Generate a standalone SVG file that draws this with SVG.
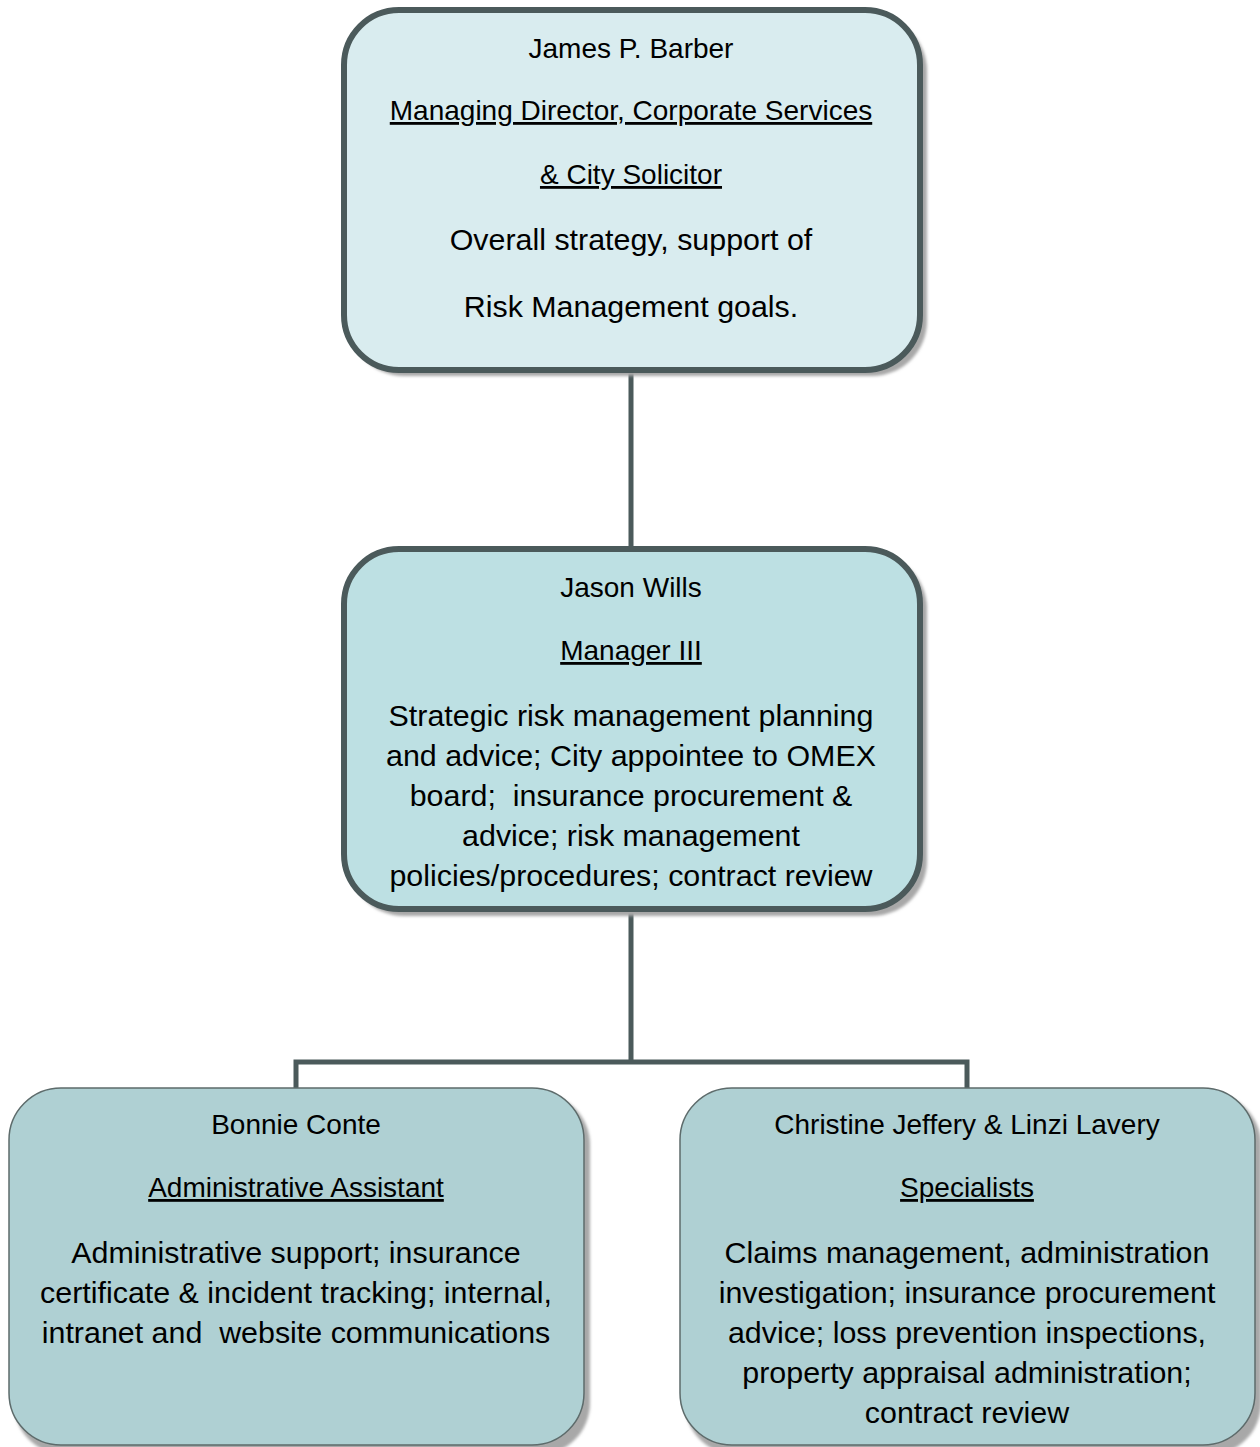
<svg xmlns="http://www.w3.org/2000/svg" width="1260" height="1447" viewBox="0 0 1260 1447">
<defs>
<filter id="blur" x="-5%" y="-5%" width="110%" height="110%"><feGaussianBlur stdDeviation="1.5"/></filter>
<style>
.t{font-family:"Liberation Sans",Arial,sans-serif;fill:#000;text-anchor:middle;white-space:pre}
.s{font-size:28px}
.b{font-size:30.4px}
.u{text-decoration:underline;text-decoration-skip-ink:none}
.shadow{fill:#a8a8a8;filter:url(#blur)}
.thick{stroke:#4b5a5b;stroke-width:6}
.thin{stroke:#5d6b6b;stroke-width:1.5}
.conn{stroke:#4b5a5b;stroke-width:5;fill:none}
</style>
</defs>
<rect width="1260" height="1447" fill="#fff"/>
<g id="connectors">
<line class="conn" x1="631" y1="370" x2="631" y2="550"/>
<path class="conn" d="M631 908 V1062 M296 1090 V1062 H967 V1090"/>
</g>
<g id="node-barber">
<rect class="shadow" x="349" y="16" width="578" height="360" rx="55"/>
<rect class="thick" x="344" y="10" width="576" height="360" rx="55" fill="#d9ecef"/>
<text class="t s" x="631" y="58">James P. Barber</text>
<text class="t s u" x="631" y="120">Managing Director, Corporate Services</text>
<text class="t s u" x="631" y="184">&amp; City Solicitor</text>
<text class="t b" x="631" y="250">Overall strategy, support of</text>
<text class="t b" x="631" y="317">Risk Management goals.</text>
</g>
<g id="node-wills">
<rect class="shadow" x="349" y="554" width="578" height="362" rx="55"/>
<rect class="thick" x="344" y="549" width="576" height="360" rx="55" fill="#bde0e3"/>
<text class="t s" x="631" y="597">Jason Wills</text>
<text class="t s u" x="631" y="660">Manager III</text>
<text class="t b" x="631" y="726">Strategic risk management planning</text>
<text class="t b" x="631" y="766">and advice; City appointee to OMEX</text>
<text class="t b" x="631" y="806">board;  insurance procurement &amp;</text>
<text class="t b" x="631" y="846">advice; risk management</text>
<text class="t b" x="631" y="886">policies/procedures; contract review</text>
</g>
<g id="node-conte">
<rect class="shadow" x="14" y="1093" width="576" height="362" rx="52"/>
<rect class="thin" x="9" y="1088" width="575" height="357" rx="52" fill="#afd0d3"/>
<text class="t s" x="296" y="1134">Bonnie Conte</text>
<text class="t s u" x="296" y="1197">Administrative Assistant</text>
<text class="t b" x="296" y="1263">Administrative support; insurance</text>
<text class="t b" x="296" y="1303">certificate &amp; incident tracking; internal,</text>
<text class="t b" x="296" y="1343">intranet and  website communications</text>
</g>
<g id="node-specialists">
<rect class="shadow" x="685" y="1093" width="576" height="362" rx="52"/>
<rect class="thin" x="680" y="1088" width="575" height="357" rx="52" fill="#afd0d3"/>
<text class="t s" x="967" y="1134">Christine Jeffery &amp; Linzi Lavery</text>
<text class="t s u" x="967" y="1197">Specialists</text>
<text class="t b" x="967" y="1263">Claims management, administration</text>
<text class="t b" x="967" y="1303">investigation; insurance procurement</text>
<text class="t b" x="967" y="1343">advice; loss prevention inspections,</text>
<text class="t b" x="967" y="1383">property appraisal administration;</text>
<text class="t b" x="967" y="1423">contract review</text>
</g>
</svg>
